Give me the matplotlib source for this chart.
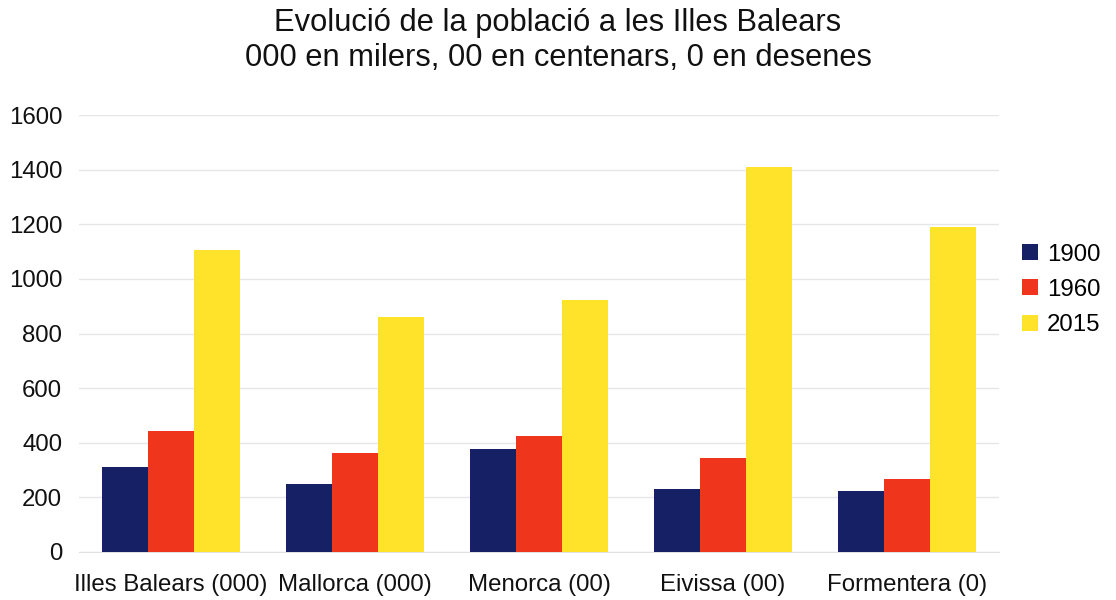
import numpy as np
import matplotlib
matplotlib.use("Agg")
import matplotlib.pyplot as plt

# Population per island (scaled as in the subtitle)
places = ["Illes Balears (000)", "Mallorca (000)", "Menorca (00)",
          "Eivissa (00)", "Formentera (0)"]
years = ["1900", "1960", "2015"]
pop_1900 = [310, 248, 378, 232, 224]
pop_1960 = [442, 363, 426, 345, 267]
pop_2015 = [1104, 861, 921, 1408, 1190]
colors = ["#162064", "#ef361c", "#ffe22a"]

plt.rcParams["font.family"] = ["Liberation Sans", "DejaVu Sans"]

fig = plt.figure(figsize=(11.16, 6), dpi=100)
ax = fig.add_axes([79 / 1116, 48 / 600, 920 / 1116, 437 / 600])

x = np.arange(len(places))
width = 0.25
for i, (vals, year) in enumerate(zip([pop_1900, pop_1960, pop_2015], years)):
    ax.bar(x + (i - 1) * width, vals, width, color=colors[i], label=year,
           zorder=3)

ax.set_xlim(-0.5, len(places) - 0.5)
ax.set_ylim(0, 1600)
ax.set_yticks(range(0, 1601, 200))
ax.set_xticks(x)
ax.set_xticklabels(places)
ax.tick_params(axis="both", length=0, labelsize=17.3, colors="#111111")
ax.tick_params(axis="y", pad=12)
ax.tick_params(axis="x", pad=16)
ax.grid(axis="y", color="#e6e6e6", linewidth=1, zorder=0)
for side in ["top", "right", "left"]:
    ax.spines[side].set_visible(False)
ax.spines["bottom"].set_color("#e0e0e0")

fig.text(0.5, 0.962, "Evolució de la població a les Illes Balears",
         ha="center", va="center", fontsize=22.2, color="#111111")
fig.text(0.5, 0.903, "000 en milers, 00 en centenars, 0 en desenes",
         ha="center", va="center", fontsize=22.2, color="#111111")

ax.legend(loc="center left", bbox_to_anchor=((1022 - 79) / 920, 0.6),
          frameon=False, fontsize=17.3, handlelength=0.65, handleheight=0.65,
          handletextpad=0.4, labelspacing=0.55, borderaxespad=0,
          borderpad=0)

fig.savefig("out.png", dpi=100)
